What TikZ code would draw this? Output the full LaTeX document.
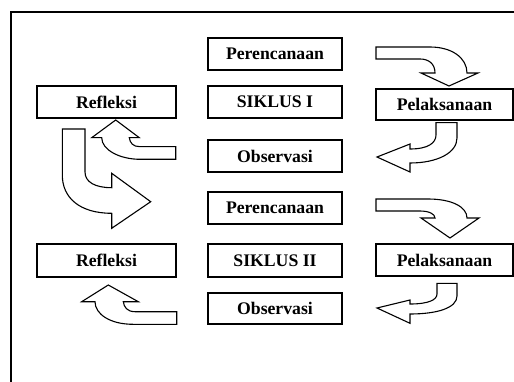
\documentclass[tikz,border=0pt]{standalone}
\usepackage{fontspec}
\setmainfont{Liberation Serif}
\begin{document}
\begin{tikzpicture}[x=1pt,y=-1pt,
  boxstyle/.style={draw=black,line width=1.3pt,fill=white,inner sep=0pt,font=\fontsize{17.7}{20}\selectfont\bfseries},
  blockarrow/.style={draw=black,line width=1.1pt,fill=white,line join=miter}]
\useasboundingbox (0,0) rectangle (514,382);
% frame
\draw[line width=2pt] (514,12) -- (11,12) -- (11,383);
% cycle I boxes
\node[boxstyle,minimum width=134pt,minimum height=32pt] (per1) at (275,54) {Perencanaan};
\node[boxstyle,minimum width=134pt,minimum height=32pt] (sik1) at (275,102) {SIKLUS I};
\node[boxstyle,minimum width=134pt,minimum height=32pt] (obs1) at (275,156) {Observasi};
\node[boxstyle,minimum width=139pt,minimum height=32pt] (ref1) at (106.5,102) {Refleksi};
\node[boxstyle,minimum width=137pt,minimum height=31pt] (pel1) at (444.5,104.5) {Pelaksanaan};
% cycle II boxes
\node[boxstyle,minimum width=134pt,minimum height=32pt] (per2) at (275,208) {Perencanaan};
\node[boxstyle,minimum width=134pt,minimum height=33pt] (sik2) at (275,260.5) {SIKLUS II};
\node[boxstyle,minimum width=134pt,minimum height=31pt] (obs2) at (275,308.5) {Observasi};
\node[boxstyle,minimum width=139pt,minimum height=33pt] (ref2) at (106.5,260.5) {Refleksi};
\node[boxstyle,minimum width=137pt,minimum height=32pt] (pel2) at (444.5,260) {Pelaksanaan};
% top-right arrow I
\draw[blockarrow] (376,47) -- (430,47) .. controls (452,47) and (467,58) .. (467,73)
  -- (478,73) -- (449,86) -- (421,73) -- (435,73) .. controls (435,64) and (429,59) .. (420,59)
  -- (376,59) -- cycle;
% bottom-right arrow I
\draw[blockarrow] (377,157) -- (410,144) -- (410,149) .. controls (428,149) and (436,143) .. (436,135)
  -- (436,122.7) -- (457,122.7) -- (457,138) .. controls (457,153) and (437,163) .. (410,163)
  -- (410,172) -- cycle;
% left arrow I (to Refleksi)
\draw[blockarrow] (115.7,120) -- (139.3,137.7) -- (129.3,137.7) .. controls (130,143) and (133,146.7) .. (140,146.7)
  -- (175.7,146.7) -- (175.7,159.3) -- (140,159.3) .. controls (120,159.3) and (101.7,150) .. (101.7,137.7)
  -- (91.7,137.7) -- cycle;
% big arrow Refleksi I -> Perencanaan II
\draw[blockarrow] (62.3,129) -- (85,129) -- (85,172) .. controls (85,182) and (95,187.7) .. (111.7,187.7)
  -- (111.7,173.3) -- (150.7,201.7) -- (111.7,228.3) -- (111.7,213.3)
  .. controls (80,213.3) and (62.3,198) .. (62.3,175) -- cycle;
% top-right arrow II
\draw[blockarrow] (376,199) -- (428,199) .. controls (452,199) and (467,207) .. (467,218)
  -- (479,218) -- (450,238) -- (421,218) -- (435,218) .. controls (435,214) and (429,211) .. (420,211)
  -- (376,211) -- cycle;
% bottom-right arrow II
\draw[blockarrow] (377,308) -- (410,300) -- (410,304) .. controls (428,304) and (437,300) .. (437,294)
  -- (437,283.3) -- (457,283.3) -- (457,296) .. controls (457,308) and (437,314) .. (410,314)
  -- (410,323.3) -- cycle;
% left arrow II
\draw[blockarrow] (108.3,285) -- (138.3,301.7) -- (123.3,301.7) .. controls (124,307) and (127,311.7) .. (135,311.7)
  -- (176.7,311.7) -- (176.7,324.3) -- (133,324.3) .. controls (110,324.3) and (95,314) .. (95,301.7)
  -- (81.7,301.7) -- cycle;
\end{tikzpicture}
\end{document}
